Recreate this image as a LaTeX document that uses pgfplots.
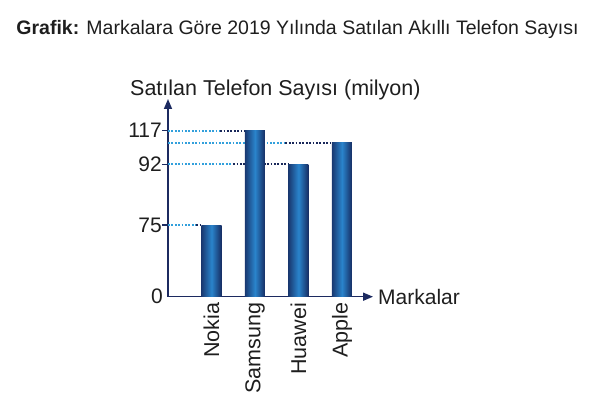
\documentclass[border=0pt]{standalone}
\usepackage{pgfplots}
\pgfplotsset{compat=1.18}
\usepackage{fontspec}
\setmainfont{Liberation Sans}
\usetikzlibrary{arrows.meta}
\definecolor{navy}{RGB}{28,42,96}
\definecolor{txt}{RGB}{30,30,30}
\definecolor{dotlight}{RGB}{50,160,220}
\definecolor{dotdark}{RGB}{25,40,90}
\definecolor{barDark}{RGB}{22,44,98}
\definecolor{barLight}{RGB}{42,132,204}
\begin{document}
\begin{tikzpicture}[x=1pt,y=1pt]
\path[use as bounding box] (0,0) rectangle (596,395);
\node[anchor=base, font=\fontsize{19.5}{20}\selectfont, text=txt, inner sep=0pt] at (297.5,360)
  {\textbf{Grafik:} Markalara Göre 2019 Yılında Satılan Akıllı Telefon Sayısı};
\begin{axis}[
  at={(168pt,98.3pt)}, anchor=south west,
  scale only axis, width=205pt, height=197.7pt,
  xmin=-1, xmax=3.713, ymin=0, ymax=140.6,
  y coord trafo/.code={\pgfmathparse{#1>92 ? 132.4+(#1-92)*1.344 : (#1>75 ? 71.7+(#1-75)*3.5706 : #1*0.956)}},
  axis lines=left,
  x axis line style={navy, line width=1.6pt, -{Stealth[length=10pt,width=8pt,inset=0pt]}},
  y axis line style={navy, line width=1.6pt, -{Stealth[length=10pt,width=8pt,inset=0pt]}},
  xtick={0,1,2,3}, xticklabels={Nokia,Samsung,Huawei,Apple},
  xtick style={draw=none},
  ytick={75,92,117}, yticklabels={75,92,117},
  extra y ticks={0}, extra y tick labels={0},
  extra y tick style={major tick length=0pt, yticklabel style={xshift=-5pt}},
  tick align=outside, major tick length=6pt,
  ytick style={navy, line width=1.2pt},
  yticklabel style={inner sep=0pt, anchor=east, font=\fontsize{21}{21}\selectfont, text=txt},
  xticklabel style={rotate=90, anchor=east, inner sep=0pt, font=\fontsize{21.5}{21.5}\selectfont, text=txt},
  xticklabel shift=0pt,
  xlabel={Markalar},
  ylabel={Satılan Telefon Sayısı (milyon)},
  every axis x label/.style={at={(axis description cs:1,0)}, anchor=west, inner sep=0pt, xshift=5pt, font=\fontsize{21}{21}\selectfont, text=txt},
  every axis y label/.style={at={(axis description cs:0,1)}, anchor=base west, inner sep=0pt, xshift=-38pt, yshift=3pt, font=\fontsize{21.5}{21.5}\selectfont, text=txt},
  clip=false,
  guide/.style={line width=1.8pt, dash pattern=on 1.8pt off 1.6pt},
  bar/.style={ybar, bar width=20pt, bar shift=0pt, draw=none, left color=barDark!85!barLight, right color=barDark, middle color=barLight},
]
% guide lines
\addplot[guide, dotlight] coordinates {(-1,117) (0.2,117)};
\addplot[guide, dotdark] coordinates {(0.2,117) (0.77,117)};
\addplot[guide, dotlight] coordinates {(-1,108) (1.7,108)};
\addplot[guide, dotdark] coordinates {(1.7,108) (2.77,108)};
\addplot[guide, dotlight] coordinates {(-1,92) (0.5,92)};
\addplot[guide, dotdark] coordinates {(0.5,92) (1.77,92)};
\addplot[guide, dotlight] coordinates {(-1,75) (-0.35,75)};
\addplot[guide, dotdark] coordinates {(-0.35,75) (-0.23,75)};
% bars
\addplot[bar] coordinates {(0,75)};
\addplot[bar] coordinates {(1,117)};
\addplot[bar] coordinates {(2,92)};
\addplot[bar] coordinates {(3,108)};
\end{axis}
\end{tikzpicture}
\end{document}
